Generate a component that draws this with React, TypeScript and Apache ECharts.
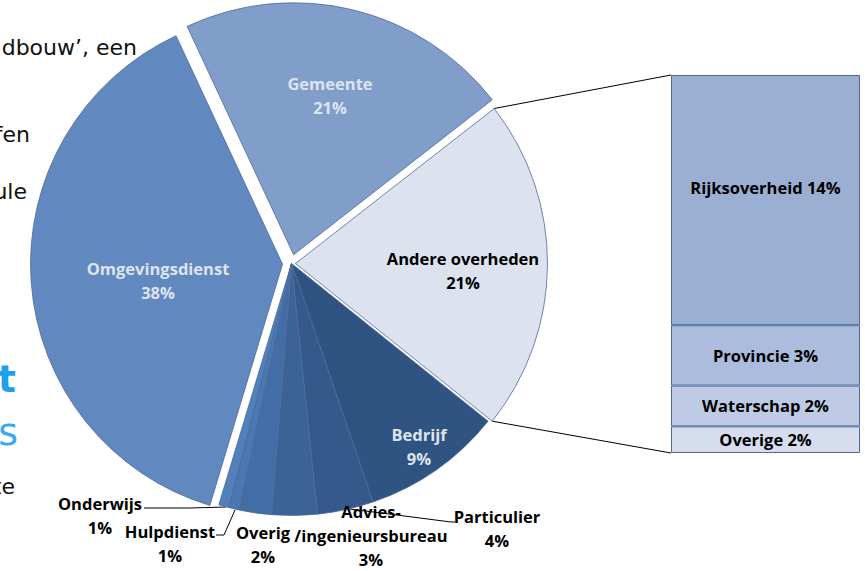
import React, { useEffect, useRef } from 'react';
import * as echarts from 'echarts';

// ---- data ----
const pieNames = ['Gemeente', 'Andere overheden', 'Bedrijf', 'Particulier', 'Advies-\n/ingenieursbureau', 'Overig', 'Hulpdienst', 'Onderwijs', 'Omgevingsdienst'];
const pieValues = [21.4, 21.3, 9.0, 3.6, 2.9, 2.1, 0.65, 0.65, 38.4];
const pieColors = ['#819ecb', '#dce3ef', '#2f5481', '#35598a', '#3c6396', '#436ea5', '#4a78b2', '#5180bb', '#6288c0'];
const otherName = 'Andere overheden';

const barNames = ['Rijksoverheid', 'Provincie', 'Waterschap', 'Overige'];
const barValues = [14.1, 3.4, 2.3, 1.5];
const barColors = ['#9aafd2', '#abbcdc', '#bfcbe5', '#d5ddee'];

// ---- layout ----
const CENTER: [number, number] = [291.5, 263.5];
const RADIUS = 252;
const START = 115;
const EXPLODE: Record<string, number> = { 'Gemeente': 9, 'Omgevingsdienst': 9, 'Andere overheden': 4 };
const GRID = { left: 671, top: 75, width: 189, height: 378 };
const FONT = '"Open Sans", "Noto Sans", sans-serif';
const FS = 16.5;
const LIGHT = '#dde4ef';

const LABEL_POS: Record<string, [number, number]> = {
  'Gemeente': [330, 95],
  'Andere overheden': [463, 270],
  'Bedrijf': [419, 446],
  'Particulier': [497, 528],
  'Advies-\n/ingenieursbureau': [371, 535],
  'Overig': [263, 544],
  'Hulpdienst': [170, 543],
  'Onderwijs': [100, 515],
  'Omgevingsdienst': [158, 280],
};
const LEADERS: Record<string, number[][]> = {
  'Onderwijs': [[226, 507], [190, 508], [144, 508]],
  'Hulpdienst': [[235, 510], [224, 535], [216, 535]],
  'Particulier': [[350, 509], [451, 522], [455, 522]],
};
const INSIDE = ['Gemeente', 'Andere overheden', 'Bedrijf', 'Omgevingsdienst'];
const LIGHT_LABEL = ['Gemeente', 'Bedrijf', 'Omgevingsdienst'];

export default function App() {
  const ref = useRef<HTMLDivElement>(null);
  useEffect(() => {
    document.body.style.margin = '0';
    if (!ref.current) return;
    const chart = echarts.init(ref.current, undefined, { renderer: 'svg' });
    const total = pieValues.reduce((a, b) => a + b, 0);
    const barTotal = barValues.reduce((a, b) => a + b, 0);
    const rad = Math.PI / 180;

    let acc = 0;
    const angles = pieValues.map((v) => {
      const s = START - (acc / total) * 360;
      acc += v;
      return [s, START - (acc / total) * 360];
    });
    const centerOf = (name: string): [number, number] => {
      const off = EXPLODE[name] || 0;
      const i = pieNames.indexOf(name);
      const mid = ((angles[i][0] + angles[i][1]) / 2) * rad;
      return [CENTER[0] + off * Math.cos(mid), CENTER[1] - off * Math.sin(mid)];
    };

    const oi = pieNames.indexOf(otherName);
    const [a0, a1] = angles[oi];
    const [ocx, ocy] = centerOf(otherName);
    const pTop = [ocx + RADIUS * Math.cos(a0 * rad), ocy - RADIUS * Math.sin(a0 * rad)];
    const pBot = [ocx + RADIUS * Math.cos(a1 * rad), ocy - RADIUS * Math.sin(a1 * rad)];

    const labelFmt = (p: any) => `${p.name}\n${Math.round(p.percent)}%`;
    const labelLayout = (p: any) => {
      const name = pieNames[p.dataIndex];
      const pos = LABEL_POS[name];
      const r: any = { x: pos[0], y: pos[1], align: 'center', verticalAlign: 'middle' };
      if (LEADERS[name]) r.labelLinePoints = LEADERS[name];
      return r;
    };

    const makeData = (visible: (n: string) => boolean) =>
      pieNames.map((name, i) => {
        const vis = visible(name);
        const inside = INSIDE.includes(name);
        return {
          name,
          value: pieValues[i],
          itemStyle: vis
            ? { color: pieColors[i], borderColor: '#4a6b9c', borderWidth: 0.8 }
            : { color: 'rgba(0,0,0,0)', borderWidth: 0 },
          label: {
            show: vis,
            position: inside ? 'inside' : 'outside',
            color: LIGHT_LABEL.includes(name) ? LIGHT : '#000',
          },
          labelLine: { show: vis && !!LEADERS[name], lineStyle: { color: '#000', width: 1 } },
        };
      });

    const pieSeries = (center: [number, number], visible: (n: string) => boolean): any => ({
      type: 'pie',
      center,
      radius: RADIUS,
      startAngle: START,
      clockwise: true,
      avoidLabelOverlap: false,
      silent: true,
      emphasis: { disabled: true },
      label: {
        formatter: labelFmt,
        fontFamily: FONT,
        fontWeight: 'bold',
        fontSize: FS,
        lineHeight: 24,
        align: 'center',
      },
      labelLayout,
      data: makeData(visible),
    });

    const barSeries = barNames.map((name, i) => ({
      type: 'bar',
      name,
      stack: 'other',
      barWidth: '100%',
      silent: true,
      data: [barValues[i]],
      itemStyle: { color: barColors[i], borderColor: '#4a6b9c', borderWidth: 1 },
      label: {
        show: true,
        position: 'inside',
        offset: i === 0 ? [0, -13] : [0, 0],
        formatter: () => `${name} ${Math.round((barValues[i] / total) * 100)}%`,
        color: '#000',
        fontFamily: FONT,
        fontWeight: 'bold',
        fontSize: FS,
      },
    }));

    const frag = (text: string, x: number, y: number, size: number, color: string, weight = 'normal') => ({
      type: 'text',
      x,
      y,
      silent: true,
      style: {
        text,
        fill: color,
        font: `${weight} ${size}px "DejaVu Sans", sans-serif`,
        textAlign: 'right',
        textVerticalAlign: 'bottom',
      },
    });

    chart.setOption({
      animation: false,
      backgroundColor: '#ffffff',
      grid: { ...GRID, containLabel: false },
      xAxis: { type: 'category', data: [''], show: false },
      yAxis: { type: 'value', min: 0, max: barTotal, inverse: true, show: false },
      series: [
        pieSeries(CENTER, (n) => !(n in EXPLODE)),
        ...Object.keys(EXPLODE).map((name) => pieSeries(centerOf(name), (n) => n === name)),
        ...barSeries,
      ],
      graphic: [
        { type: 'line', silent: true, shape: { x1: pTop[0], y1: pTop[1], x2: GRID.left, y2: GRID.top }, style: { stroke: '#000', lineWidth: 1 } },
        { type: 'line', silent: true, shape: { x1: pBot[0], y1: pBot[1], x2: GRID.left, y2: GRID.top + GRID.height }, style: { stroke: '#000', lineWidth: 1 } },
        frag('dbouw’, een', 137, 58, 22, '#111'),
        frag('fen', 30, 145, 22, '#111'),
        frag('ule', 27, 202, 22, '#111'),
        frag('t', 16, 398, 38, '#1e9fef', 'bold'),
        frag('s', 18, 451, 38, '#3aa9f1'),
        frag('te', 15, 497, 22, '#111'),
      ],
    });
    return () => chart.dispose();
  }, []);
  return <div ref={ref} style={{ width: 865, height: 571 }} />;
}
